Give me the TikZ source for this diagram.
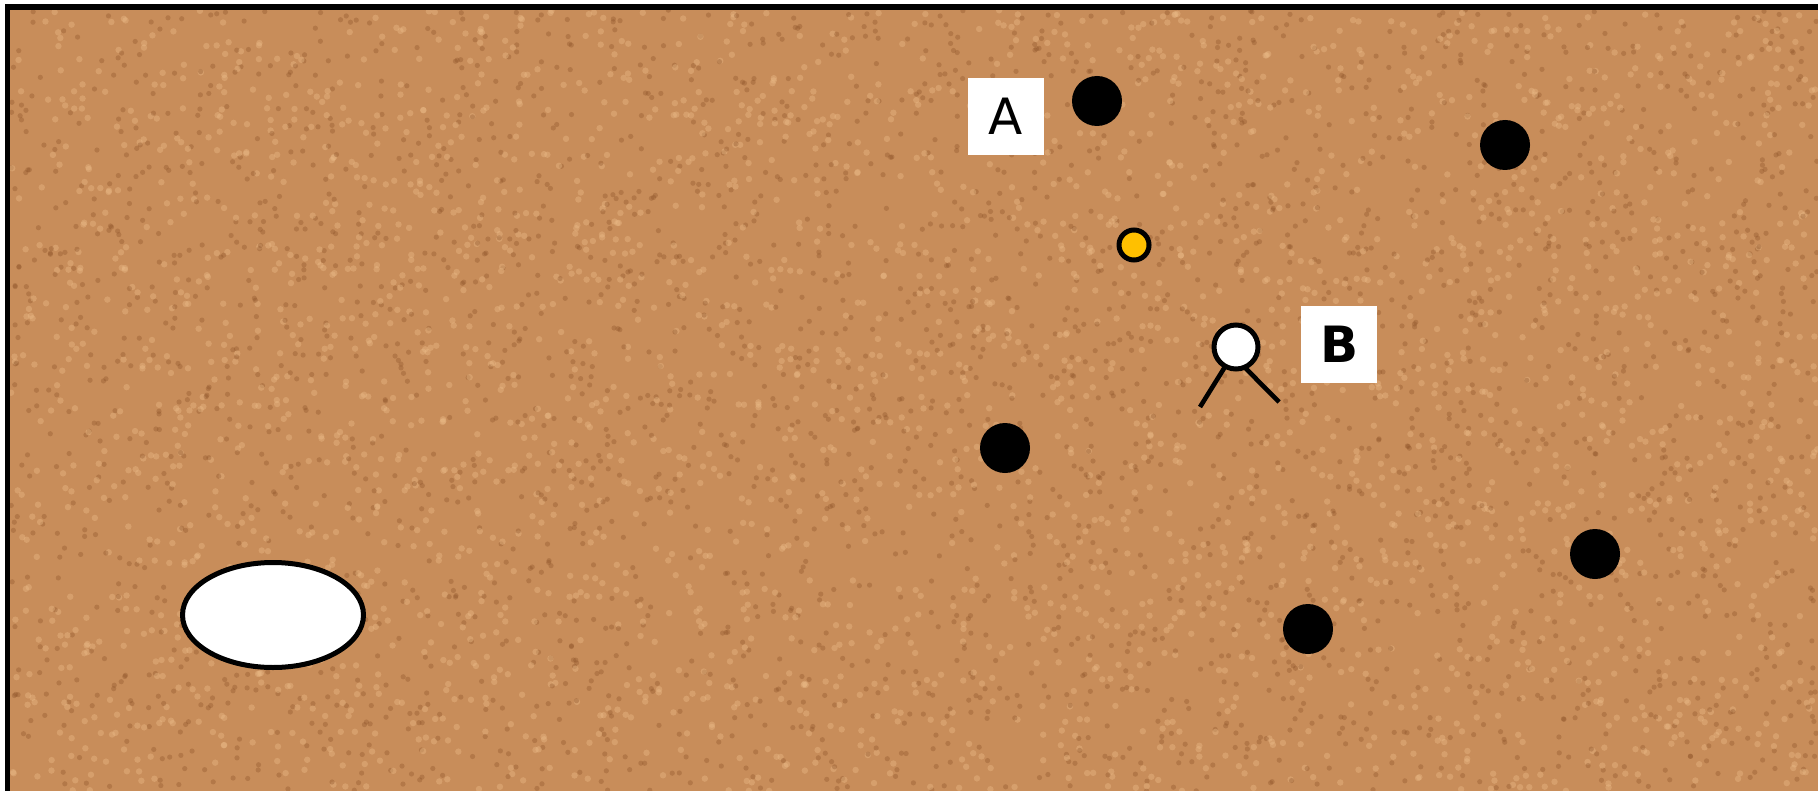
\documentclass[tikz,border=0pt]{standalone}
\usepackage{fontspec}
\setmainfont{DejaVu Sans}
\usetikzlibrary{shapes.geometric, positioning}

\definecolor{sand}{RGB}{200,141,90}
\definecolor{sanddark}{RGB}{140,82,40}
\definecolor{sandlight}{RGB}{236,188,136}
\definecolor{marker}{RGB}{255,192,0}

\tikzset{
  stone/.style={circle, fill=black, minimum size=25pt, inner sep=0pt, outer sep=0pt},
  tag/.style={fill=white, minimum width=38pt, minimum height=38.5pt, inner sep=0pt,
    font=\fontsize{25}{25}\selectfont},
}

\begin{document}
\begin{tikzpicture}[x=0.5pt, y=-0.5pt]
    \useasboundingbox (0,0) rectangle (1818,791);

    % ground with speckles
    \begin{scope}
        \clip (0,0) rectangle (1818,791);
        \fill[sand] (7.5,7) rectangle (1830,800);
        \pgfmathsetseed{17}
        \foreach \i in {1,...,3000} {
            \fill[sanddark, opacity=0.35] ({10+1808*rnd},{10+781*rnd}) circle (1.3pt);
            \fill[sandlight, opacity=0.4] ({10+1808*rnd},{10+781*rnd}) circle (1.6pt);
        }
        \draw[line width=2.8pt] (7.5,7) rectangle (1830,800);
    \end{scope}

    \node[stone] (d1) at (1097,101) {};
    \node[stone] (d2) at (1505,145) {};
    \node[stone] (d3) at (1005,448) {};
    \node[stone] (d4) at (1595,554) {};
    \node[stone] (d5) at (1308,629) {};
    \node[tag] (A) at (1006,116.5) {A};

    \node[circle, draw, line width=2.5pt, fill=marker, minimum size=15pt, inner sep=0pt, outer sep=0pt] (goal) at (1134,245) {};

    \node[circle, draw, line width=2.5pt, fill=white, minimum size=22pt, inner sep=0pt, outer sep=0pt] (head) at (1236,347) {};
    \node[tag, font=\fontsize{25}{25}\selectfont\bfseries, right=21.5pt of head, yshift=1.5pt] (B) {B};
    \coordinate (footL) at (1200,407);
    \coordinate (footR) at (1279,402);
    \draw[line width=2.3pt] (head.241) -- (footL) (head.293) -- (footR);

    \node[ellipse, draw, line width=2.5pt, fill=white, minimum width=90.5pt, minimum height=52.5pt, inner sep=0pt] (hole) at (273,615) {};

\end{tikzpicture}
\end{document}
